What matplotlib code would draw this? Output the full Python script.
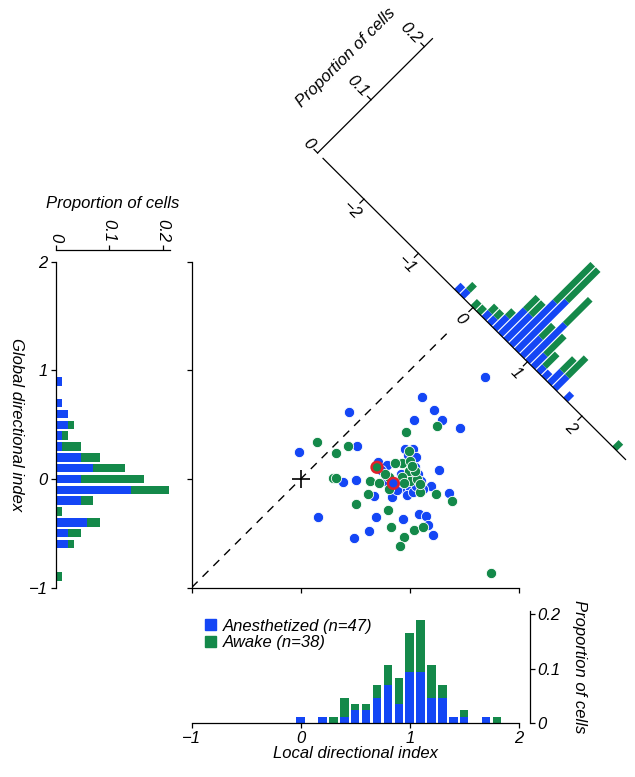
import numpy as np
import matplotlib
matplotlib.use("Agg")
import matplotlib.pyplot as plt
from matplotlib.transforms import Affine2D
from matplotlib.patches import Patch

plt.rcParams['font.family'] = ['Liberation Sans', 'DejaVu Sans']
plt.rcParams['font.style'] = 'italic'
plt.rcParams['font.size'] = 12

BLUE = '#1446f5'
GREEN = '#14894a'
RED = '#e0202a'
N_TOTAL = 85

# scatter: local (x) vs global (y) directional index
anesth_local = [1.69, 1.11, 1.22, 0.446, 1.04, 1.30, 1.46, 0.52, -0.02, 0.957, 1.03,
                0.71, 0.79, 1.27, 1.05, 0.39, 0.507, 0.95, 1.00, 1.195, 1.365, 0.675,
                0.835, 0.975, 0.159, 0.69, 0.94, 1.085, 1.145, 1.17, 0.63, 1.21, 0.49,
                0.98, 1.06, 1.08, 1.10, 0.92, 0.88, 1.03, 1.12, 0.77, 0.74, 1.00, 1.06, 0.93]
anesth_global = [0.94, 0.76, 0.635, 0.615, 0.54, 0.544, 0.47, 0.305, 0.25, 0.274, 0.28,
                 0.16, 0.125, 0.08, 0.11, -0.025, -0.012, -0.08, -0.08, -0.06, -0.13, -0.157,
                 -0.17, -0.147, -0.35, -0.35, -0.365, -0.325, -0.345, -0.425, -0.48, -0.516, -0.54,
                 0.22, 0.20, 0.05, -0.02, 0.05, -0.10, -0.12, -0.09, -0.02, 0.08, 0.0, -0.06, -0.03]
awake_local = [1.745, 0.152, 0.324, 0.437, 0.30, 0.32, 0.51, 0.617, 0.64, 0.72, 0.97,
               1.25, 0.99, 0.93, 1.00, 0.865, 0.99, 1.00, 1.07, 0.81, 0.81, 1.09, 0.93,
               1.09, 1.24, 1.39, 0.80, 0.83, 1.04, 1.125, 0.95, 0.91,
               0.77, 1.05, 0.95, 0.86, 1.02]
awake_global = [-0.87, 0.341, 0.237, 0.304, 0.012, 0.006, -0.23, -0.138, -0.015, -0.034, 0.436,
                0.486, 0.26, 0.145, 0.17, 0.145, 0.077, -0.015, -0.003, 0.015, -0.092, -0.12, 0.015,
                -0.05, -0.138, -0.2, -0.286, -0.44, -0.47, -0.445, -0.53, -0.62,
                0.05, 0.07, -0.04, -0.03, 0.12]
# two example cells circled in red
marked_local = [0.70, 0.85]
marked_global = [0.108, -0.04]
marked_colors = [GREEN, BLUE]

# histogram of global index (left), counts per bin
global_bins = [0.9, 0.8, 0.7, 0.6, 0.5, 0.4, 0.3, 0.2, 0.1, 0.0,
               -0.1, -0.2, -0.3, -0.4, -0.5, -0.6, -0.7, -0.8, -0.9]
global_anesth = [1, 0, 1, 2, 2, 1, 1, 4, 6, 4, 12, 4, 0, 5, 2, 2, 0, 0, 0]
global_awake = [0, 0, 0, 0, 1, 1, 3, 3, 5, 10, 6, 2, 1, 2, 2, 1, 0, 0, 1]

# histogram of local index (bottom)
local_bins = [0.0, 0.1, 0.2, 0.3, 0.4, 0.5, 0.6, 0.7, 0.8, 0.9,
              1.0, 1.1, 1.2, 1.3, 1.4, 1.5, 1.6, 1.7, 1.8]
local_anesth = [1, 0, 1, 0, 1, 2, 2, 4, 6, 3, 8, 8, 4, 4, 1, 1, 0, 1, 0]
local_awake = [0, 0, 0, 1, 3, 1, 1, 2, 3, 4, 6, 8, 5, 2, 0, 1, 0, 0, 1]

# histogram of local - global (diagonal)
diff_bins = [-0.3, -0.2, -0.1, 0.0, 0.1, 0.2, 0.3, 0.4, 0.5, 0.6, 0.7,
             0.8, 0.9, 1.0, 1.1, 1.2, 1.3, 1.4, 1.5, 1.6, 1.7, 2.6]
diff_anesth = [1, 1, 0, 0, 0, 1, 1, 2, 4, 4, 7, 8, 3, 6, 2, 1, 1, 2, 2, 0, 1, 0]
diff_awake = [0, 1, 0, 1, 1, 1, 1, 1, 2, 2, 6, 5, 2, 4, 3, 2, 0, 2, 3, 0, 0, 1]

W, H = 635, 777
fig = plt.figure(figsize=(W / 100, H / 100), dpi=100)


def px_axes(x0, y0, x1, y1):
    # box given in pixels from the top-left corner
    return fig.add_axes([x0 / W, 1 - y1 / H, (x1 - x0) / W, (y1 - y0) / H])


def prop(counts):
    return np.array(counts) / N_TOTAL


TICK = dict(direction='out', length=3.6, width=0.9)
BAR_W = 0.078

# ---- main scatter ----
ax = px_axes(191.7, 262, 518.7, 587.5)
ax.set_xlim(-1, 2)
ax.set_ylim(-1, 2)
for s in ['top', 'right']:
    ax.spines[s].set_visible(False)
for s in ['left', 'bottom']:
    ax.spines[s].set_linewidth(0.9)
ax.set_xticks([-1, 0, 1, 2])
ax.set_yticks([-1, 0, 1, 2])
ax.tick_params(labelbottom=False, labelleft=False, **TICK)

ax.plot([-1, 1.34], [-1, 1.34], color='k', lw=1.0, dashes=(6, 5), zorder=1)
ax.plot(0, 0, marker='+', ms=13, mew=1.2, color='k', zorder=2)
ax.scatter(anesth_local, anesth_global, s=55, color=BLUE, edgecolors='white', linewidths=0.6, zorder=3)
ax.scatter(awake_local, awake_global, s=55, color=GREEN, edgecolors='white', linewidths=0.6, zorder=4)
ax.scatter(marked_local, marked_global, s=60, color=marked_colors, edgecolors=RED, linewidths=1.8, zorder=5)

# ---- diagonal histogram, drawn in the scatter's data frame ----
c0 = 1.58   # where the diagonal axis crosses the identity line
k = 4.9     # data units per unit proportion along the normal
T = Affine2D(np.array([[0.5, k, c0], [-0.5, k, c0], [0, 0, 1]])) + ax.transData
pa = prop(diff_anesth)
pw = prop(diff_awake)
ax.bar(diff_bins, pa, width=0.085, color=BLUE, lw=0, transform=T, clip_on=False)
ax.bar(diff_bins, pw, width=0.085, bottom=pa, color=GREEN, lw=0, transform=T, clip_on=False)
ax.plot([-2.75, 2.8], [0, 0], color='k', lw=0.9, transform=T, clip_on=False)
for d in [-2, -1, 0, 1, 2]:
    ax.plot([d, d], [0, -0.0075], color='k', lw=0.9, transform=T, clip_on=False)
    ax.text(d, -0.022, str(d).replace('-', '\u2212'), transform=T, rotation=-45,
            ha='center', va='center', rotation_mode='anchor')
d_prop = -2.85
ax.plot([d_prop, d_prop], [0, 0.215], color='k', lw=0.9, transform=T, clip_on=False)
for p, lab in zip([0, 0.1, 0.2], ['0', '0.1', '0.2']):
    ax.plot([d_prop, d_prop - 0.065], [p, p], color='k', lw=0.9, transform=T, clip_on=False)
    ax.text(d_prop - 0.1, p, lab, transform=T, rotation=-45, ha='right', va='center',
            rotation_mode='anchor')
ax.text(-3.47, 0.116, 'Proportion of cells', transform=T, rotation=45,
        ha='center', va='center', rotation_mode='anchor')
ax.set_xlim(-1, 2)
ax.set_ylim(-1, 2)

# ---- left histogram (global index) ----
axl = px_axes(55.5, 262, 55.5 + 0.213 * 537.5, 587.5)
ga = prop(global_anesth)
gw = prop(global_awake)
axl.barh(global_bins, ga, height=BAR_W, color=BLUE, lw=0)
axl.barh(global_bins, gw, left=ga, height=BAR_W, color=GREEN, lw=0)
axl.set_xlim(0, 0.213)
axl.set_ylim(-1, 2)
axl.spines['right'].set_visible(False)
axl.spines['bottom'].set_visible(False)
axl.spines['top'].set_position(('outward', 8.5))
for s in ['left', 'top']:
    axl.spines[s].set_linewidth(0.9)
axl.xaxis.tick_top()
axl.xaxis.set_label_position('top')
axl.set_xticks([0, 0.1, 0.2])
axl.set_xticklabels(['0', '0.1', '0.2'], rotation=-90)
axl.set_yticks([-1, 0, 1, 2])
axl.set_yticklabels(['\u22121', '0', '1', '2'])
axl.tick_params(pad=2, **TICK)
axl.set_xlabel('Proportion of cells', labelpad=8)
axl.set_ylabel('Global directional index', rotation=-90, labelpad=14)

# ---- bottom histogram (local index) ----
axb = px_axes(191.7, 723.3 - 0.206 * 546.5, 518.7, 723.3)
la = prop(local_anesth)
lw_ = prop(local_awake)
axb.bar(local_bins, la, width=BAR_W, color=BLUE, lw=0)
axb.bar(local_bins, lw_, bottom=la, width=BAR_W, color=GREEN, lw=0)
axb.set_xlim(-1, 2)
axb.set_ylim(0, 0.206)
axb.spines['top'].set_visible(False)
axb.spines['left'].set_visible(False)
axb.spines['right'].set_position(('outward', 8))
for s in ['right', 'bottom']:
    axb.spines[s].set_linewidth(0.9)
axb.yaxis.tick_right()
axb.yaxis.set_label_position('right')
axb.set_yticks([0, 0.1, 0.2])
axb.set_yticklabels(['0', '0.1', '0.2'])
axb.set_xticks([-1, 0, 1, 2])
axb.set_xticklabels(['\u22121', '0', '1', '2'])
axb.tick_params(pad=2, **TICK)
axb.set_xlabel('Local directional index', labelpad=0)
axb.set_ylabel('Proportion of cells', rotation=-90, labelpad=19)
handles = [Patch(color=BLUE, label='Anesthetized (n=47)'),
           Patch(color=GREEN, label='Awake (n=38)')]
axb.legend(handles=handles, loc='upper left', bbox_to_anchor=(0.04, 0.93), frameon=False,
           handlelength=0.65, handleheight=0.65, handletextpad=0.45, labelspacing=0.1,
           borderpad=0, borderaxespad=0)

fig.savefig('out.png', dpi=100)
